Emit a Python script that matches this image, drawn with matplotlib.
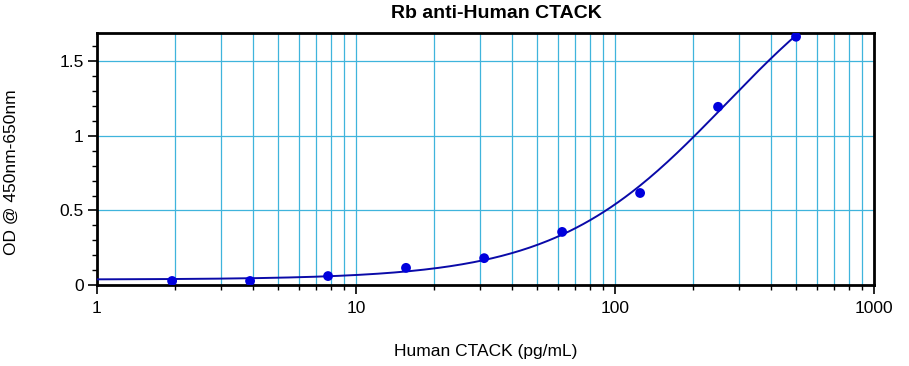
import numpy as np
import matplotlib
matplotlib.use("Agg")
import matplotlib.pyplot as plt
from matplotlib.ticker import MultipleLocator, FixedLocator, NullFormatter

# Data
conc = [1.95, 3.9, 7.8, 15.6, 31.25, 62.5, 125, 250, 500]
od = [0.027, 0.027, 0.06, 0.115, 0.18, 0.356, 0.617, 1.195, 1.665]
x_ticks = [1, 10, 100, 1000]
x_tick_labels = ["1", "10", "100", "1000"]
y_ticks = [0, 0.5, 1, 1.5]
y_tick_labels = ["0", "0.5", "1", "1.5"]
title = "Rb anti-Human CTACK"
xlabel = "Human CTACK (pg/mL)"
ylabel = "OD @ 450nm-650nm"

x = np.array(conc, float)
y = np.array(od, float)


def fourpl(p, xx):
    a, b, c, d = p
    return d + (a - d) / (1.0 + (xx / c) ** b)


def fit_4pl(xx, yy, p0):
    p = np.array(p0, float)
    lam = 1e-3
    for _ in range(500):
        r = yy - fourpl(p, xx)
        J = np.zeros((len(xx), 4))
        for k in range(4):
            dp = np.zeros(4)
            dp[k] = 1e-6 * max(abs(p[k]), 1e-3)
            J[:, k] = (fourpl(p + dp, xx) - fourpl(p - dp, xx)) / (2 * dp[k])
        A = J.T @ J
        g = J.T @ r
        step = np.linalg.solve(A + lam * np.diag(np.diag(A) + 1e-12), g)
        pn = p + step
        if pn[2] > 0 and np.sum((yy - fourpl(pn, xx)) ** 2) < np.sum(r ** 2):
            p = pn
            lam *= 0.3
        else:
            lam *= 10
    return p


params = fit_4pl(x, y, [0.03, 1.3, 300.0, 3.0])
xs = np.logspace(0, np.log10(max(conc)), 300)
ys = fourpl(params, xs)

plt.rcParams['font.family'] = ['Liberation Sans', 'DejaVu Sans']
fig = plt.figure(figsize=(9.09, 3.66), dpi=100)
ax = fig.add_axes([0.1067, 0.2213, 0.8548, 0.6885])

ax.set_xscale('log')
ax.set_xlim(1, 1000)
ax.set_ylim(0, 1.69)

grid_color = '#3fb4dc'
for dec in [1, 10, 100]:
    for m in range(2, 11):
        ax.axvline(dec * m, color=grid_color, lw=0.9, zorder=0)
for yt in [0.5, 1.0, 1.5]:
    ax.axhline(yt, color=grid_color, lw=0.9, zorder=0)

ax.plot(xs, ys, color='#0a0aa8', lw=1.4, zorder=3)
ax.scatter(x, y, s=50, color='#0000dd', zorder=4, edgecolors='none')

ax.xaxis.set_major_locator(FixedLocator(x_ticks))
ax.set_xticklabels(x_tick_labels)
ax.xaxis.set_minor_locator(FixedLocator([d * m for d in [1, 10, 100] for m in range(2, 10)]))
ax.xaxis.set_minor_formatter(NullFormatter())
ax.yaxis.set_major_locator(FixedLocator(y_ticks))
ax.set_yticklabels(y_tick_labels)
ax.yaxis.set_minor_locator(MultipleLocator(0.1))

ax.tick_params(axis='both', which='major', labelsize=12.5, length=6.5, width=1.2,
               direction='out', colors='black')
ax.tick_params(axis='both', which='minor', length=3.5, width=1.0)
ax.tick_params(axis='x', which='major', pad=5)
ax.tick_params(axis='y', which='major', pad=3)
for s in ax.spines.values():
    s.set_linewidth(2)
    s.set_color('black')

fig.text(0.546, 0.962, title, fontsize=14, fontweight='bold', ha='center', va='center')
ax.set_xlabel(xlabel, fontsize=12.5, labelpad=20)
fig.text(0.013, 0.53, ylabel, rotation=90, fontsize=12.5, ha='center', va='center')

fig.savefig('out.png', dpi=100)
